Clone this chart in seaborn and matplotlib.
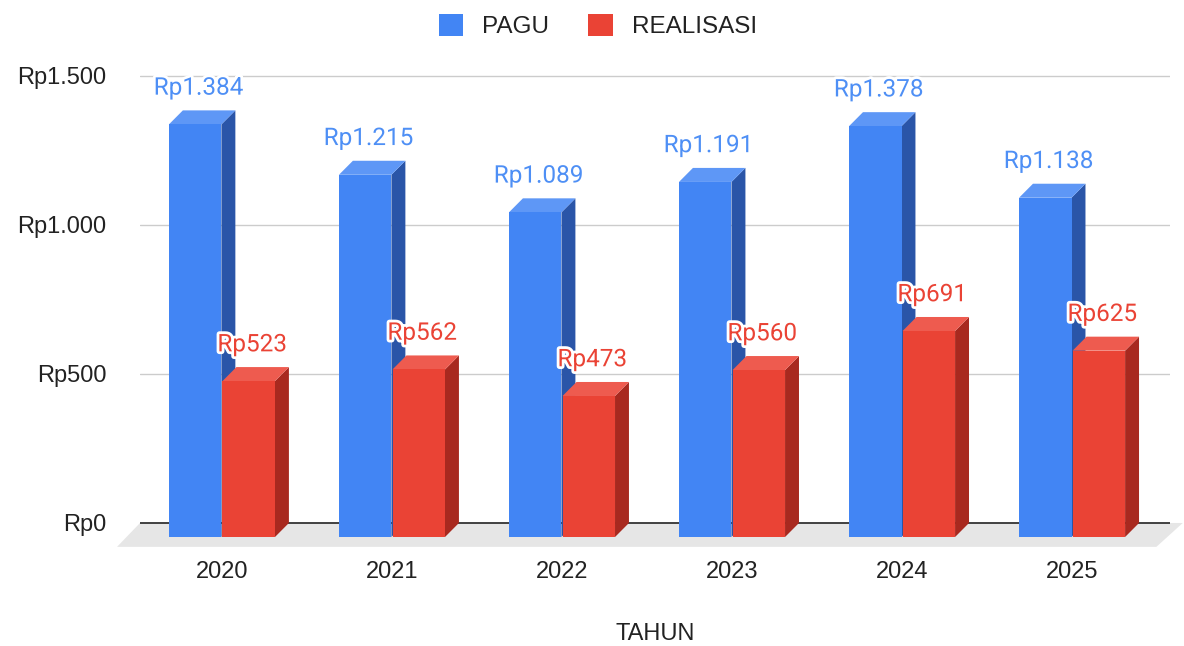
import matplotlib
matplotlib.use("Agg")
import matplotlib.pyplot as plt
import seaborn as sns
import pandas as pd
from matplotlib.patches import Polygon, Patch
import matplotlib.patheffects as pe

years = ["2020", "2021", "2022", "2023", "2024", "2025"]
pagu = [1384, 1215, 1089, 1191, 1378, 1138]
realisasi = [523, 562, 473, 560, 691, 625]
series = ["PAGU", "REALISASI"]
yticks = [0, 500, 1000, 1500]

front = {"PAGU": "#4285F4", "REALISASI": "#EA4335"}
side = {"PAGU": "#2A55A8", "REALISASI": "#A8291F"}
top = {"PAGU": "#5E97F6", "REALISASI": "#EE5B4F"}
label_col = {"PAGU": "#4E8FF5", "REALISASI": "#EA4335"}

df = pd.DataFrame({
    "TAHUN": years * 2,
    "value": pagu + realisasi,
    "series": ["PAGU"] * len(years) + ["REALISASI"] * len(years),
})

sns.set_theme(style="white")
plt.rcParams["font.family"] = ["Liberation Sans", "DejaVu Sans"]

fig = plt.figure(figsize=(11.84, 6.46), dpi=100)
ax = fig.add_axes([140 / 1184, 96 / 646, 1030 / 1184, 490 / 646])

sns.barplot(data=df, x="TAHUN", y="value", hue="series", palette=front,
            width=0.63, gap=0.02, ax=ax, legend=False, zorder=3, linewidth=0,
            edgecolor="none", saturation=1)

DX = 0.082   # depth in category units
DY = 47.0    # depth in value units

ax.set_xlim(-0.482, 5.576)
ax.set_ylim(-90.6, 1553)

# floor
FDX, FDY = 0.135, 80.0
xl, xr = ax.get_xlim()
floor = Polygon([(xl - FDX, -FDY), (xr - 0.08, -FDY), (xr + 0.075, 0), (xl, 0)],
                closed=True, facecolor="#E6E6E6", edgecolor="none", zorder=1,
                clip_on=False)
ax.add_patch(floor)

for yv in yticks[1:]:
    ax.axhline(yv, color="#CCCCCC", lw=1, zorder=0)
ax.axhline(0, color="#333333", lw=1.3, zorder=2)

n = len(years)
for i, p in enumerate(ax.patches[:2 * n]):
    s = series[i // n]
    x0, w, h = p.get_x(), p.get_width(), p.get_height()
    p.set_y(-DY)
    p.set_zorder(4)
    sidep = Polygon([(x0 + w, -DY), (x0 + w, h - DY), (x0 + w + DX, h), (x0 + w + DX, 0)],
                    closed=True, facecolor=side[s], edgecolor="none", zorder=3)
    topp = Polygon([(x0, h - DY), (x0 + w, h - DY), (x0 + w + DX, h), (x0 + DX, h)],
                   closed=True, facecolor=top[s], edgecolor="none", zorder=3)
    ax.add_patch(sidep)
    ax.add_patch(topp)
    txt = "Rp" + f"{int(h):,}".replace(",", ".")
    ax.text(x0 + w / 2 + 0.02, h + 36, txt, ha="center", va="bottom",
            fontsize=17.5, color=label_col[s], zorder=6, family=["Roboto", "DejaVu Sans"],
            path_effects=[pe.withStroke(linewidth=4, foreground="white")])

ax.set_yticks(yticks)
ax.set_yticklabels(["Rp" + f"{v:,}".replace(",", ".") for v in yticks],
                   fontsize=17, color="#222222")
ax.tick_params(axis="x", labelsize=17, colors="#222222", pad=8, length=0)
ax.tick_params(axis="y", length=0, pad=24)
ax.set_xlabel("TAHUN", fontsize=17, color="#222222", labelpad=29)
ax.set_ylabel("")
for sp in ax.spines.values():
    sp.set_visible(False)

handles = [Patch(facecolor=front[s], edgecolor="none", label=s) for s in series]
fig.legend(handles=handles, loc="upper center", bbox_to_anchor=(0.505, 1.012),
           ncol=2, frameon=False, fontsize=17.5, handlelength=1.0, handleheight=1.0,
           columnspacing=1.6, handletextpad=0.8, labelcolor="#222222")

fig.savefig("out.png", dpi=100)
